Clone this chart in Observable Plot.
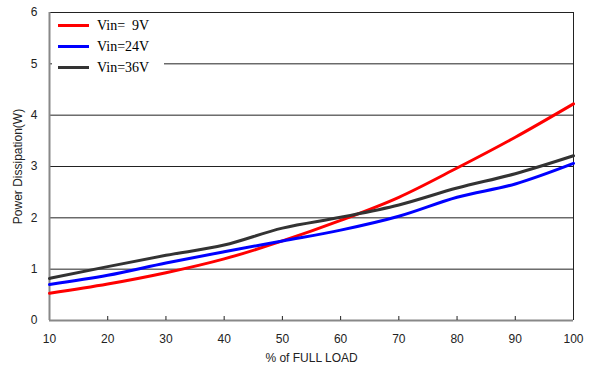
<!DOCTYPE html>
<html>
<head>
<meta charset="utf-8">
<script src="https://cdn.jsdelivr.net/npm/d3@7"></script>
<script src="https://cdn.jsdelivr.net/npm/@observablehq/plot@0.6"></script>
<style>
  html, body { margin: 0; padding: 0; background: #fff; }
  #chart { position: relative; width: 596px; height: 367px; }
  #legend {
    position: absolute; left: 52px; top: 15px; width: 112px;
    background: #fff; padding: 0; font-family: "Liberation Serif", "Times New Roman", serif;
    font-size: 14px; color: #000;
  }
  #legend .row { display: flex; align-items: center; height: 21px; }
  #legend .sw { width: 31px; height: 3px; margin-left: 6px; margin-right: 8px; }
  #legend .lb { white-space: pre; }
</style>
</head>
<body>
<div id="chart"><div id="legend"></div></div>
<script>
// Load levels (% of full load)
const load = [10, 20, 30, 40, 50, 60, 70, 80, 90, 100];
// Power dissipation (W) per input voltage
const vin9  = [0.53, 0.71, 0.93, 1.20, 1.55, 1.95, 2.40, 2.97, 3.57, 4.22];
const vin24 = [0.70, 0.88, 1.12, 1.34, 1.55, 1.76, 2.03, 2.40, 2.66, 3.06];
const vin36 = [0.82, 1.05, 1.27, 1.47, 1.80, 2.01, 2.25, 2.58, 2.86, 3.21];
const seriesNames = ["Vin=  9V", "Vin=24V", "Vin=36V"];
const seriesColors = ["#ff0000", "#0000ff", "#333333"];
const xTicks = [10, 20, 30, 40, 50, 60, 70, 80, 90, 100];
const yTicks = [0, 1, 2, 3, 4, 5, 6];
const gridValues = [1, 2, 3, 4, 5, 6];

const rows = [vin9, vin24, vin36].flatMap((vals, i) =>
  vals.map((v, j) => ({ load: load[j], pd: v, series: seriesNames[i] })));

const W = 596, H = 367, mT = 12, mB = 47, mL = 49, mR = 23;
const innerH = H - mT - mB;

const chart = Plot.plot({
  width: W, height: H,
  marginTop: mT, marginBottom: mB, marginLeft: mL, marginRight: mR,
  style: { fontFamily: "'Liberation Sans', Arial, sans-serif", fontSize: "12px", color: "#222", background: "#fff" },
  x: { domain: [10, 100] },
  y: { domain: [0, 6] },
  color: { domain: seriesNames, range: seriesColors },
  marks: [
    Plot.ruleY(gridValues, { stroke: "#222", strokeWidth: 1 }),
    Plot.ruleX([100], { stroke: "#222", strokeWidth: 1 }),
    Plot.ruleY([0], { stroke: "#888", strokeWidth: 2 }),
    Plot.ruleX([10], { stroke: "#888", strokeWidth: 2 }),
    Plot.ruleX(xTicks.slice(1, -1), { stroke: "#222", strokeWidth: 1, insetTop: innerH - 4 }),
    Plot.line(rows, { x: "load", y: "pd", z: "series", stroke: "series", strokeWidth: 3, curve: "monotone-x" }),
    Plot.axisX(xTicks, { tickSize: 0, tickPadding: 14, fontSize: 12, tickFormat: "d",
      label: "% of FULL LOAD", labelAnchor: "center", labelArrow: "none", labelOffset: 41 }),
    Plot.axisY(yTicks, { tickSize: 0, tickPadding: 12, fontSize: 12, tickFormat: "d",
      label: "Power Dissipation(W)", labelAnchor: "center", labelArrow: "none", labelOffset: 36 })
  ]
});
document.getElementById("chart").prepend(chart);

// Legend drawn over the top-left of the plot area
const legend = document.getElementById("legend");
seriesNames.forEach((name, i) => {
  const row = document.createElement("div");
  row.className = "row";
  const sw = document.createElement("span");
  sw.className = "sw";
  sw.style.background = seriesColors[i];
  const lb = document.createElement("span");
  lb.className = "lb";
  lb.textContent = name;
  row.append(sw, lb);
  legend.append(row);
});
</script>
</body>
</html>
